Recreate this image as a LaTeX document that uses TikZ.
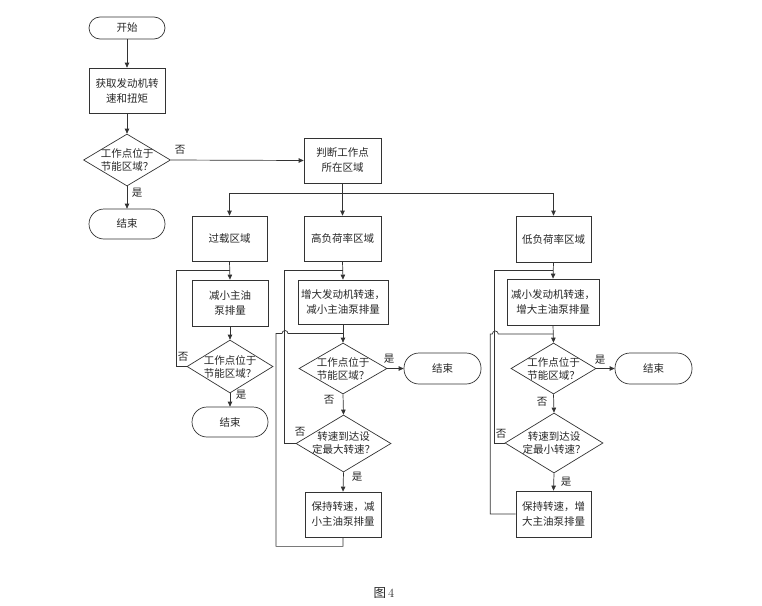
\documentclass[tikz,border=0pt]{standalone}
\usepackage{fontspec}
\newfontfamily\cjk{Noto Sans CJK SC}
\usetikzlibrary{shapes.geometric,arrows.meta,calc}
\tikzset{
  base/.style={draw=black!80, line width=0.7pt, text=black!85, font=\cjk\fontsize{10.5}{15}\selectfont, align=center, inner sep=1pt},
  box/.style={base, rectangle, minimum width=76pt, minimum height=45pt},
  term/.style={base, rectangle, rounded corners=15pt, minimum width=76pt, minimum height=30pt},
  dia/.style={base, diamond, inner sep=0pt},
  lbl/.style={text=black!85, font=\cjk\fontsize{10.5}{13}\selectfont, inner sep=0pt},
  conn/.style={draw=black!80, line width=0.7pt},
  arr/.style={conn, -{Triangle[length=5pt,width=4.5pt]}},
}
\begin{document}
\begin{tikzpicture}[x=1pt,y=-1pt]
\useasboundingbox (0,0) rectangle (762,605);
% main column
\node[term, minimum height=22pt, rounded corners=11pt] (start) at (127,28) {开始};
\node[box] (get) at (127,90.5) {获取发动机转\\速和扭矩};
\node[dia, minimum width=87pt, minimum height=52pt, label={[lbl,align=center]center:工作点位于\\节能区域？}] (d1) at (127,160) {};
\node[term] (end1) at (127,224) {结束};
\node[box, minimum width=77pt] (judge) at (342.5,160.5) {判断工作点\\所在区域};
% regions
\node[box, minimum width=75pt] (over) at (229.5,238.5) {过载区域};
\node[box, minimum width=77pt] (high) at (342.5,238.5) {高负荷率区域};
\node[box, minimum width=75pt, minimum height=46pt] (low) at (553.5,239) {低负荷率区域};
% overload column
\node[box, minimum height=46pt] (ob) at (230,303) {减小主油\\泵排量};
\node[dia, minimum width=86pt, minimum height=53pt, label={[lbl,align=center]center:工作点位于\\节能区域？}] (od) at (230,366.5) {};
\node[term] (oend) at (230,422) {结束};
% high column
\node[box, minimum width=90pt, minimum height=44pt] (hb) at (343,302) {增大发动机转速，\\减小主油泵排量};
\node[dia, minimum width=88pt, minimum height=51pt, label={[lbl,align=center]center:工作点位于\\节能区域？}] (hd1) at (343,368.5) {};
\node[term, minimum width=77pt, minimum height=31pt] (hend) at (442.5,368.5) {结束};
\node[dia, minimum width=95pt, minimum height=57pt, label={[lbl,align=center]center:转速到达设\\定最大转速？}] (hd2) at (343.5,443.5) {};
\node[box] (hk) at (343,514.5) {保持转速，减\\小主油泵排量};
% low column
\node[box, minimum width=92pt, minimum height=46pt] (lb) at (553,302) {减小发动机转速，\\增大主油泵排量};
\node[dia, minimum width=85pt, minimum height=51pt, label={[lbl,align=center]center:工作点位于\\节能区域？}] (ld1) at (553.5,368.5) {};
\node[term, minimum width=77pt, minimum height=31pt] (lend) at (653.5,368.5) {结束};
\node[dia, minimum width=98pt, minimum height=60pt, label={[lbl,align=center]center:转速到达设\\定最小转速？}] (ld2) at (554,443) {};
\node[box, minimum width=75pt, minimum height=46pt] (lk) at (553.5,514) {保持转速，增\\大主油泵排量};
% caption
\node[lbl, font=\fontsize{12.5}{14}\selectfont] (cap) at (384,593) {{\cjk 图}\,4};

% main connectors
\draw[arr] (start) -- (get);
\draw[arr] (get) -- (d1.north);
\draw[arr] (d1.east) -- (judge.west);
\draw[arr] (d1.south) -- (end1.north);
\node[lbl] (n1) at (180,150) {否};
\node[lbl] (y1) at (137,193) {是};
\draw[arr] (judge.south) -- (high.north);
\draw[arr] (judge.south) -- ++(0,10) -| (over.north);
\draw[arr] (judge.south) -- ++(0,10) -| (low.north);

% overload
\coordinate (om1) at ($(over.south)!0.5!(ob.north)$);
\draw[arr] (over.south) -- (ob.north);
\draw[arr] (ob.south) -- (od.north);
\draw[arr] (od.south) -- (oend.north);
\draw[conn] (od.west) -- ++(-10,0) |- (om1);
\node[lbl] (n2) at (183,357) {否};
\node[lbl] (y2) at (241,395) {是};

% high
\coordinate (hm1) at ($(high.south)!0.5!(hb.north)$);
\coordinate (hm2) at ($(hb.south)!0.5!(hd1.north)$);
\draw[arr] (high.south) -- (hb.north);
\draw[arr] (hb.south) -- (hd1.north);
\draw[arr] (hd1.east) -- (hend.west);
\draw[arr] (hd1.south) -- (hd2.north);
\draw[arr] (hd2.south) -- (hk.north);
\draw[conn] (hd2.west) -- ++(-11,0) |- (hm1);
\draw[conn] (hk.south) -- ++(0,9) -| ($(hm2)+(-67,0)$) -- ++(6,0) arc[start angle=180, end angle=0, radius=3pt] -- (hm2);
\node[lbl] (y3) at (389,359) {是};
\node[lbl] (n3) at (329,400) {否};
\node[lbl] (n4) at (300,432) {否};
\node[lbl] (y4) at (357,477) {是};

% low
\coordinate (lm1) at ($(low.south)!0.5!(lb.north)$);
\coordinate (lm2) at ($(lb.south)!0.5!(ld1.north)$);
\draw[arr] (low.south) -- (lb.north);
\draw[arr] (lb.south) -- (ld1.north);
\draw[arr] (ld1.east) -- (lend.west);
\draw[arr] (ld1.south) -- (ld2.north);
\draw[arr] (ld2.south) -- (lk.north);
\draw[conn] (ld2.west) -- ++(-10,0) |- (lm1);
\draw[conn] (lk.west) -| ($(lm2)+(-63,0)$) -- ++(2,0) arc[start angle=180, end angle=0, radius=3pt] -- (lm2);
\node[lbl] (y5) at (600,360) {是};
\node[lbl] (n5) at (542,402) {否};
\node[lbl] (n6) at (501,434) {否};
\node[lbl] (y6) at (566,482) {是};
\end{tikzpicture}
\end{document}
